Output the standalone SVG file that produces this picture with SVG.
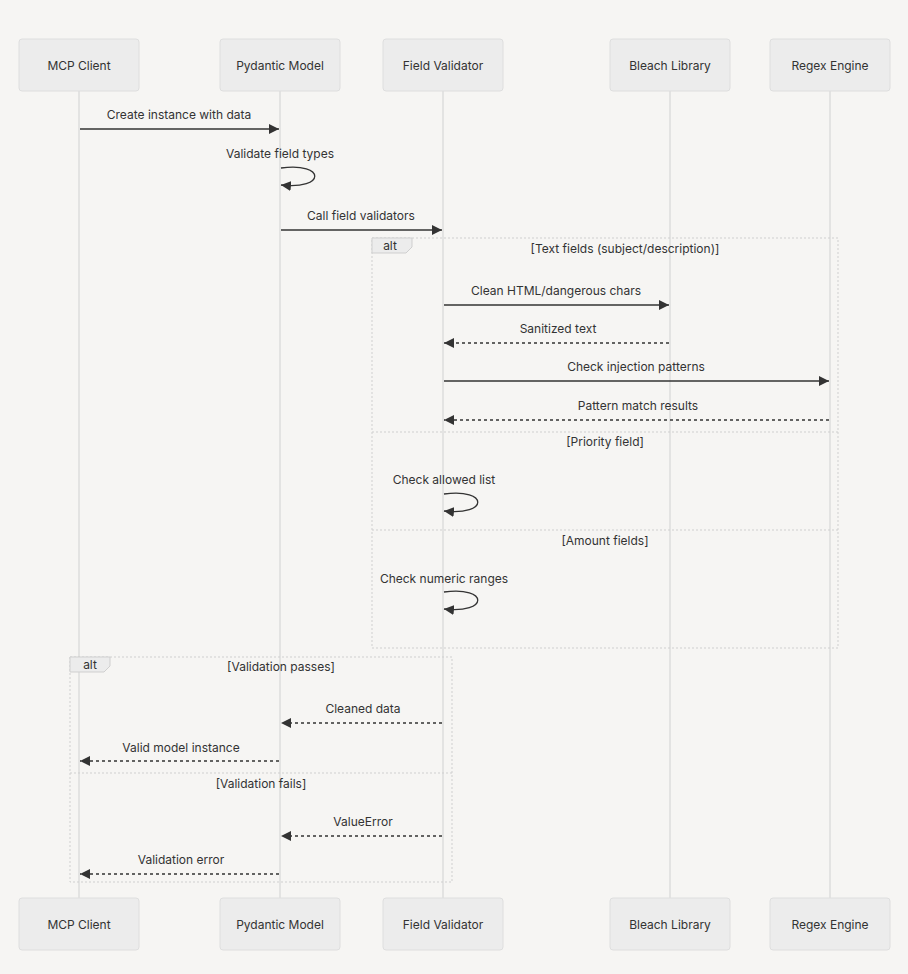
<svg xmlns="http://www.w3.org/2000/svg" width="908" height="974" viewBox="0 0 908 974">
<defs>
<style>
.bg{fill:#f6f5f3}
.actor rect{fill:#ececec;stroke:#dedede;stroke-width:1}
text{font-family:Inter,"Liberation Sans",Arial,sans-serif;font-size:12px;fill:#333}
.actor text,.msg text,.lbl{text-anchor:middle}
.life{stroke:#dcdcdc;stroke-width:1.5}
.solid{stroke:#333;stroke-width:1.3;fill:none}
.dash{stroke:#333;stroke-width:1.3;fill:none;stroke-dasharray:3,3}
.frame{fill:none;stroke:#cfcfcf;stroke-width:1;stroke-dasharray:2,2}
.tab{fill:#ececec;stroke:#cfcfcf;stroke-width:1}
</style>
<marker id="ah" viewBox="0 0 10 10" refX="10" refY="5" markerWidth="10" markerHeight="10" markerUnits="userSpaceOnUse" orient="auto">
<path d="M0,0 L10,5 L0,10 z" fill="#333"/>
</marker>
</defs>
<rect class="bg" x="0" y="0" width="908" height="974"/>
<g id="lifelines">
<line class="life" x1="79" y1="91" x2="79" y2="898"/>
<line class="life" x1="280" y1="91" x2="280" y2="898"/>
<line class="life" x1="443" y1="91" x2="443" y2="898"/>
<line class="life" x1="670" y1="91" x2="670" y2="898"/>
<line class="life" x1="830" y1="91" x2="830" y2="898"/>
</g>
<g id="actor-mcp-top" class="actor"><rect x="19" y="39" width="120" height="52" rx="3"/><text x="79" y="69.5">MCP Client</text></g>
<g id="actor-pyd-top" class="actor"><rect x="220" y="39" width="120" height="52" rx="3"/><text x="280" y="69.5">Pydantic Model</text></g>
<g id="actor-fv-top" class="actor"><rect x="383" y="39" width="120" height="52" rx="3"/><text x="443" y="69.5">Field Validator</text></g>
<g id="actor-bl-top" class="actor"><rect x="610" y="39" width="120" height="52" rx="3"/><text x="670" y="69.5">Bleach Library</text></g>
<g id="actor-re-top" class="actor"><rect x="770" y="39" width="120" height="52" rx="3"/><text x="830" y="69.5">Regex Engine</text></g>
<g id="actor-mcp-bot" class="actor"><rect x="19" y="898" width="120" height="52" rx="3"/><text x="79" y="928.5">MCP Client</text></g>
<g id="actor-pyd-bot" class="actor"><rect x="220" y="898" width="120" height="52" rx="3"/><text x="280" y="928.5">Pydantic Model</text></g>
<g id="actor-fv-bot" class="actor"><rect x="383" y="898" width="120" height="52" rx="3"/><text x="443" y="928.5">Field Validator</text></g>
<g id="actor-bl-bot" class="actor"><rect x="610" y="898" width="120" height="52" rx="3"/><text x="670" y="928.5">Bleach Library</text></g>
<g id="actor-re-bot" class="actor"><rect x="770" y="898" width="120" height="52" rx="3"/><text x="830" y="928.5">Regex Engine</text></g>
<g id="alt1">
<rect class="frame" x="372" y="238" width="466" height="410"/>
<polygon class="tab" points="372,238 412,238 412,247 406,253 372,253"/>
<text x="390" y="250" class="lbl">alt</text>
<text x="625" y="252.5" class="lbl">[Text fields (subject/description)]</text>
<line class="frame" x1="372" y1="432" x2="838" y2="432"/>
<text x="605" y="445.5" class="lbl">[Priority field]</text>
<line class="frame" x1="372" y1="530" x2="838" y2="530"/>
<text x="605" y="544.5" class="lbl">[Amount fields]</text>
</g>
<g id="alt2">
<rect class="frame" x="70" y="657" width="382" height="225"/>
<polygon class="tab" points="70,657 110,657 110,666 104,672 70,672"/>
<text x="90" y="669" class="lbl">alt</text>
<text x="281" y="670.5" class="lbl">[Validation passes]</text>
<line class="frame" x1="70" y1="773" x2="452" y2="773"/>
<text x="261" y="787.5" class="lbl">[Validation fails]</text>
</g>
<g id="connectors" class="msg">
<line class="solid" x1="80" y1="129" x2="279" y2="129" marker-end="url(#ah)"/>
<text x="179" y="118.5">Create instance with data</text>
<path class="solid" d="M281,168 C326,162 326,190 281,185" marker-end="url(#ah)"/>
<text x="280" y="157.5">Validate field types</text>
<line class="solid" x1="281" y1="230" x2="442" y2="230" marker-end="url(#ah)"/>
<text x="361" y="219.5">Call field validators</text>
<line class="solid" x1="444" y1="305" x2="669" y2="305" marker-end="url(#ah)"/>
<text x="556" y="294.5">Clean HTML/dangerous chars</text>
<line class="dash" x1="669" y1="343" x2="444" y2="343" marker-end="url(#ah)"/>
<text x="558" y="332.5">Sanitized text</text>
<line class="solid" x1="444" y1="381" x2="829" y2="381" marker-end="url(#ah)"/>
<text x="636" y="370.5">Check injection patterns</text>
<line class="dash" x1="829" y1="420" x2="444" y2="420" marker-end="url(#ah)"/>
<text x="638" y="409.5">Pattern match results</text>
<path class="solid" d="M444,494 C489,488 489,516 444,511" marker-end="url(#ah)"/>
<text x="444" y="483.5">Check allowed list</text>
<path class="solid" d="M444,592 C489,586 489,614 444,609" marker-end="url(#ah)"/>
<text x="444" y="582.5">Check numeric ranges</text>
<line class="dash" x1="442" y1="723" x2="281" y2="723" marker-end="url(#ah)"/>
<text x="363" y="712.5">Cleaned data</text>
<line class="dash" x1="279" y1="761" x2="80" y2="761" marker-end="url(#ah)"/>
<text x="181" y="751.5">Valid model instance</text>
<line class="dash" x1="442" y1="836" x2="281" y2="836" marker-end="url(#ah)"/>
<text x="363" y="825.5">ValueError</text>
<line class="dash" x1="279" y1="874" x2="80" y2="874" marker-end="url(#ah)"/>
<text x="181" y="863.5">Validation error</text>
</g>
</svg>
